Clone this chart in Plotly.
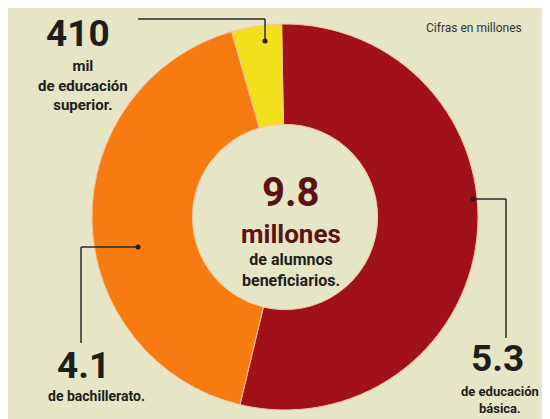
import plotly.graph_objects as go

W, H = 550, 419

categories = ["de educación básica", "de bachillerato", "de educación superior"]
values = [5.3, 4.1, 0.41]  # millones
colors = ["#a0111a", "#f67c12", "#f3e01c"]

total_label = "9.8"

def px(x):
    return x / W

def py(y):
    return 1 - y / H

fig = go.Figure()
fig.add_trace(go.Pie(
    labels=categories,
    values=values,
    hole=0.48,
    sort=False,
    direction="clockwise",
    rotation=-1,
    marker=dict(colors=colors, line=dict(color="#f3c7a0", width=1)),
    textinfo="none",
    hoverinfo="label+value",
    showlegend=False,
    domain=dict(x=[px(84), px(470)], y=[py(402), py(16)]),
))

font_main = "Roboto"
dark = "#1e1e1a"
maroon = "#5a1414"

ann = []
def add(text, x, y, size, color=dark, bold=True, xanchor="center"):
    t = f"<b>{text}</b>" if bold else text
    ann.append(dict(text=t, x=px(x), y=py(y), xref="paper", yref="paper",
                    showarrow=False, xanchor=xanchor, yanchor="middle",
                    borderpad=0,
                    font=dict(family=font_main, size=size, color=color)))

# top-left label
add("410", 70, 26, 37)
add("mil<br>de educación<br>superior.", 75, 77, 15)

# top-right note
add("Cifras en millones", 466, 20, 12, color="#333330", bold=False)

# center
add(total_label, 283, 184, 40, color=maroon)
add("millones", 283, 226, 26, color=maroon)
add("de alumnos<br>beneficiarios.", 283, 262, 16)

# bottom-left
add("4.1", 75, 357, 37)
add("de bachillerato.", 88, 388, 14)

# bottom-right
add("5.3", 489, 350, 37)
add("de educación<br>básica.", 492, 392, 13)

line_col = "#2a2a26"
shapes = []
def seg(x0, y0, x1, y1):
    shapes.append(dict(type="line", xref="paper", yref="paper",
                       x0=px(x0), y0=py(y0), x1=px(x1), y1=py(y1),
                       line=dict(color=line_col, width=1.5)))
def dot(x, y, r=2.5, col="#2a1a14"):
    shapes.append(dict(type="circle", xref="paper", yref="paper",
                       x0=px(x - r), x1=px(x + r), y0=py(y + r), y1=py(y - r),
                       fillcolor=col, line=dict(width=0)))

# top connector (superior)
seg(130, 11, 257, 11)
seg(257, 11, 257, 33)
dot(257, 33)
# right connector (básica)
seg(465, 191, 498, 191)
seg(498, 191, 498, 330)
dot(465, 191)
# left connector (bachillerato)
seg(130, 239, 73, 239)
seg(73, 239, 73, 335)
dot(130, 239)

fig.update_layout(
    width=W, height=H,
    margin=dict(l=0, r=0, t=0, b=0),
    paper_bgcolor="#e6e5c6",
    plot_bgcolor="#e6e5c6",
    annotations=ann,
    shapes=shapes,
)

fig.write_html("out.html")
